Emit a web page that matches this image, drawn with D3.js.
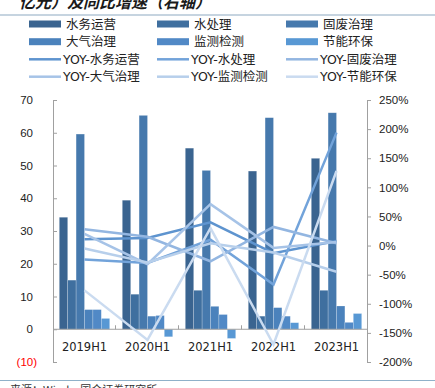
<!DOCTYPE html>
<html>
<head>
<meta charset="utf-8">
<script src="https://cdn.jsdelivr.net/npm/d3@7"></script>
<style>
  body { margin: 0; background: #fff; }
  svg { display: block; font-family: "DejaVu Sans", "Noto Sans CJK SC", sans-serif; }
</style>
</head>
<body>
<div id="viz"></div>
<script>
const width = 435;
const height = 388;
const margin = {top: 100, right: 68, bottom: 26, left: 53};

// categories and series
const periods = ['2019H1', '2020H1', '2021H1', '2022H1', '2023H1'];
const sectors = ['水务运营', '水处理', '固废治理', '大气治理', '监测检测', '节能环保'];

// bar values (left axis, 亿元)
const profit = [
  [34.2, 39.4, 55.3, 48.3, 52.2],   // 水务运营
  [15.0, 10.7, 11.9, 4.0, 11.9],    // 水处理
  [59.6, 65.3, 48.5, 64.6, 66.1],   // 固废治理
  [6.0, 4.0, 7.0, 6.6, 7.1],        // 大气治理
  [6.0, 4.2, 4.5, 4.0, 2.1],        // 监测检测
  [3.3, -2.3, -2.8, 2.0, 4.8]       // 节能环保
];

// YoY growth (right axis, %)
const yoy = [
  [11, 13, 40, -13, 8],
  [-24, -30, 10, -67, 194],
  [28, 15, -27, 32, 4],
  [20, -32, 71, -4, 6],
  [-5, -29, 4, -12, -45],
  [-77, -162, 30, -170, 128]
];

const leftTicks = [70, 60, 50, 40, 30, 20, 10, 0, -10];
const rightTicks = [250, 200, 150, 100, 50, 0, -50, -100, -150, -200];

const barColors = ['#3a6490', '#3f6f9f', '#4679ad', '#4b82bc', '#5189c6', '#5898d4'];
const lineColors = ['#5e94cf', '#72a3da', '#93b6e1', '#a6c3e7', '#b7cfeb', '#cadbf0'];

const svg = d3.select('#viz')
  .append('svg')
    .attr('width', width)
    .attr('height', height);

// title (cut at the top) and rules
svg.append('text')
  .attr('x', 19)
  .attr('y', 8)
  .style('font-family', '"Noto Sans CJK SC", sans-serif')
  .style('font-size', '16px')
  .style('font-weight', 700)
  .style('font-style', 'italic')
  .attr('fill', '#1a1a1a')
  .text('亿元）及同比增速（右轴）');

svg.append('line')
  .attr('x1', 0).attr('x2', width)
  .attr('y1', 15).attr('y2', 15)
  .attr('stroke', '#b3c6d6')
  .attr('stroke-width', 1.5);

svg.append('line')
  .attr('x1', 0).attr('x2', width)
  .attr('y1', 380.5).attr('y2', 380.5)
  .attr('stroke', '#8fb1c9')
  .attr('stroke-width', 1.2);

svg.append('text')
  .attr('x', 10)
  .attr('y', 394)
  .style('font-family', '"Noto Sans CJK SC", sans-serif')
  .style('font-size', '11px')
  .attr('fill', '#333')
  .text('来源：Wind，国金证券研究所');

// scales
const plotBottom = 362;
const x0 = d3.scaleBand()
  .domain(periods)
  .range([margin.left, width - margin.right + 1])
  .paddingInner(0.2)
  .paddingOuter(0.1);

const x1 = d3.scaleBand()
  .domain(sectors)
  .range([0, x0.bandwidth()]);

const yLeft = d3.scaleLinear()
  .domain([-10, 70])
  .range([plotBottom, margin.top]);

const yRight = d3.scaleLinear()
  .domain([-200, 250])
  .range([plotBottom, margin.top]);

// bars
const barData = [];
sectors.forEach((s, i) => {
  periods.forEach((p, j) => {
    barData.push({sector: s, period: p, value: profit[i][j], idx: i});
  });
});

svg.append('g')
  .attr('class', 'bars')
  .selectAll('rect')
  .data(barData)
  .join('rect')
    .attr('x', d => x0(d.period) + x1(d.sector))
    .attr('width', x1.bandwidth())
    .attr('y', d => yLeft(Math.max(0, d.value)))
    .attr('height', d => Math.abs(yLeft(d.value) - yLeft(0)))
    .attr('fill', d => barColors[d.idx])
    .attr('stroke', '#ffffff')
    .attr('stroke-opacity', 0.35)
    .attr('stroke-width', 0.6);

// left axis
const axisLeft = d3.axisLeft(yLeft)
  .tickValues(leftTicks)
  .tickSize(-4)
  .tickPadding(20)
  .tickFormat(d => d < 0 ? `(${Math.abs(d)})` : d);

const gLeft = svg.append('g')
  .attr('transform', `translate(${margin.left},0)`)
  .call(axisLeft);
gLeft.select('.domain').attr('stroke', '#a0a0a0');
gLeft.selectAll('.tick line').attr('stroke', '#a0a0a0');
gLeft.selectAll('.tick text')
  .style('font-size', '11.5px')
  .attr('fill', d => d < 0 ? '#ff0000' : '#222')
  .attr('dx', d => d < 0 ? 4 : 0);

// right axis
const axisRight = d3.axisRight(yRight)
  .tickValues(rightTicks)
  .tickSize(4)
  .tickPadding(8)
  .tickFormat(d => d + '%');

const gRight = svg.append('g')
  .attr('transform', `translate(${width - margin.right},0)`)
  .call(axisRight);
gRight.select('.domain').attr('stroke', '#a0a0a0');
gRight.selectAll('.tick line').attr('stroke', '#a0a0a0');
gRight.selectAll('.tick text')
  .style('font-size', '11.5px')
  .attr('fill', '#222');

// x axis on the zero line
const zeroY = yLeft(0);
svg.append('line')
  .attr('x1', margin.left).attr('x2', width - margin.right)
  .attr('y1', zeroY).attr('y2', zeroY)
  .attr('stroke', '#a0a0a0');

const step = x0.step();
svg.append('g')
  .selectAll('line')
  .data(periods.slice(1))
  .join('line')
    .attr('x1', d => x0(d) - step * 0.2 / 2 - 0.5)
    .attr('x2', d => x0(d) - step * 0.2 / 2 - 0.5)
    .attr('y1', zeroY)
    .attr('y2', zeroY - 4)
    .attr('stroke', '#a0a0a0');

svg.append('g')
  .selectAll('text')
  .data(periods)
  .join('text')
    .attr('x', d => x0(d) + x0.bandwidth() / 2)
    .attr('y', 351)
    .attr('text-anchor', 'middle')
    .style('font-size', '11.5px')
    .attr('fill', '#222')
    .text(d => d);

// YoY lines
const line = d3.line()
  .x((d, j) => x0(periods[j]) + x0.bandwidth() / 2)
  .y(d => yRight(d));

svg.append('g')
  .attr('class', 'lines')
  .selectAll('path')
  .data(yoy)
  .join('path')
    .attr('d', d => line(d))
    .attr('fill', 'none')
    .attr('stroke', (d, i) => lineColors[i])
    .attr('stroke-width', 2.5);

// legend
const legendCols = [29, 157, 286];
const legendRows = [24, 41.7, 59.3, 76.7];
const legendItems = [];
sectors.forEach((s, i) => legendItems.push({label: s, type: 'bar', color: barColors[i], k: i}));
sectors.forEach((s, i) => legendItems.push({label: 'YOY-' + s, type: 'line', color: lineColors[i], k: i + 6}));

const legend = svg.append('g')
  .attr('class', 'legend')
  .selectAll('g')
  .data(legendItems)
  .join('g')
    .attr('transform', d => `translate(${legendCols[d.k % 3]},${legendRows[Math.floor(d.k / 3)]})`);

legend.filter(d => d.type === 'bar')
  .append('rect')
    .attr('x', 0).attr('y', -3.5)
    .attr('width', 32).attr('height', 7)
    .attr('fill', d => d.color);

legend.filter(d => d.type === 'line')
  .append('line')
    .attr('x1', 0).attr('x2', 32)
    .attr('y1', 0).attr('y2', 0)
    .attr('stroke', d => d.color)
    .attr('stroke-width', 2.5);

legend.append('text')
  .attr('x', d => d.type === 'bar' ? 37 : 34)
  .attr('y', 4.5)
  .style('font-size', '12.5px')
  .attr('fill', '#222')
  .text(d => d.label);
</script>
</body>
</html>
